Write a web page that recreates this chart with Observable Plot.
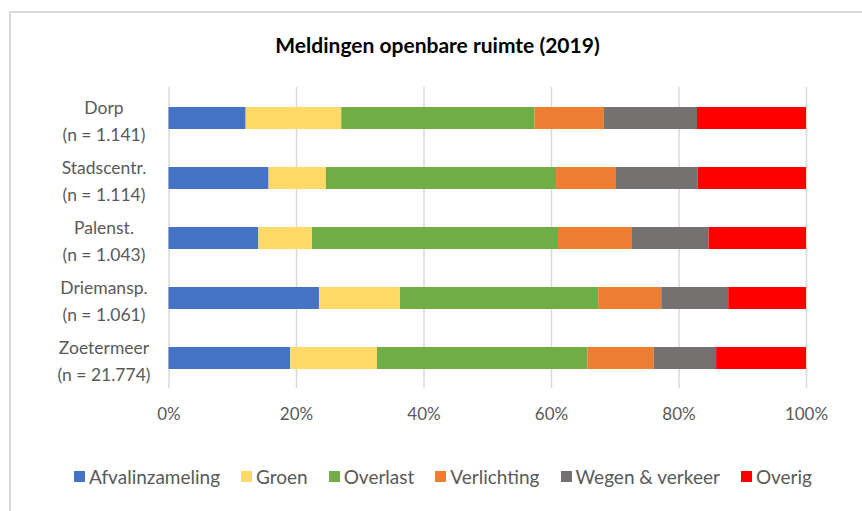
<!DOCTYPE html>
<html>
<head>
<meta charset="utf-8">
<script src="https://cdn.jsdelivr.net/npm/d3@7"></script>
<script src="https://cdn.jsdelivr.net/npm/@observablehq/plot@0.6"></script>
<style>
  html, body { margin: 0; padding: 0; background: #fff; }
  #wrap { position: relative; width: 862px; height: 511px; overflow: hidden; font-family: Lato, "Open Sans", sans-serif; }
  #frame { position: absolute; left: 9px; top: 11px; width: 900px; height: 600px; border-left: 2px solid #d9d9d9; border-top: 2px solid #d9d9d9; box-sizing: border-box; }
  #title { position: absolute; left: 0; width: 875px; top: 32px; text-align: center; font-weight: bold; font-size: 21px; color: #000; }
  #chart { position: absolute; left: 0; top: 0; }
  #legend { position: absolute; left: 0; width: 886px; top: 465px; display: flex; justify-content: center; font-size: 19px; color: #595959; }
  .item { display: flex; align-items: center; margin: 0 10.5px; }
  .sw { width: 11px; height: 11px; margin-right: 4px; }
</style>
</head>
<body>
<div id="wrap">
  <div id="frame"></div>
  <div id="chart"></div>
  <div id="title">Meldingen openbare ruimte (2019)</div>
  <div id="legend"></div>
</div>
<script>
const categories = ["Dorp", "Stadscentr.", "Palenst.", "Driemansp.", "Zoetermeer"];
const counts = ["1.141", "1.114", "1.043", "1.061", "21.774"];
const seriesNames = ["Afvalinzameling", "Groen", "Overlast", "Verlichting", "Wegen & verkeer", "Overig"];
const seriesColors = ["#4472C4", "#FFD966", "#70AD47", "#ED7D31", "#767171", "#FF0000"];
const afvalinzameling = [12.1, 15.7, 14.1, 23.6, 19.1];
const groen = [15.0, 9.0, 8.4, 12.7, 13.6];
const overlast = [30.3, 36.1, 38.6, 31.1, 33.0];
const verlichting = [10.9, 9.4, 11.6, 9.9, 10.4];
const wegenVerkeer = [14.6, 12.8, 12.0, 10.5, 9.8];
const overig = [17.1, 17.0, 15.3, 12.2, 14.1];
const xTicks = [0, 20, 40, 60, 80, 100];

const seriesValues = [afvalinzameling, groen, overlast, verlichting, wegenVerkeer, overig];
const rows = [];
categories.forEach((c, i) => {
  seriesNames.forEach((s, j) => rows.push({cat: c, series: s, value: seriesValues[j][i]}));
});
const labels = categories.map((c, i) => ({cat: c, label: `${c}\n(n = ${counts[i]})`}));

const plot = Plot.plot({
  width: 862,
  height: 511,
  marginLeft: 168.5,
  marginRight: 56,
  marginTop: 87,
  marginBottom: 123,
  style: {fontFamily: "Lato, 'Open Sans', sans-serif", fontSize: "17px", color: "#595959", background: "transparent"},
  x: {domain: [0, 100], ticks: xTicks, tickFormat: d => d + "%", label: null},
  y: {domain: categories, paddingInner: 0.635, paddingOuter: 0.3175, label: null, axis: null},
  color: {domain: seriesNames, range: seriesColors},
  marks: [
    Plot.gridX(xTicks, {stroke: "#d9d9d9", strokeOpacity: 1, strokeWidth: 1.5}),
    Plot.barX(rows, Plot.stackX({x: "value", y: "cat", fill: "series", order: seriesNames})),
    Plot.axisX(xTicks, {tickSize: 0, tickPadding: 19, tickFormat: d => d + "%", label: null, fill: "#595959", fontSize: 17}),
    Plot.text(labels, {y: "cat", text: "label", frameAnchor: "left", dx: -65, textAnchor: "middle", lineAnchor: "middle", lineHeight: 1.55, fill: "#595959", fontSize: 17.5})
  ]
});
document.getElementById("chart").appendChild(plot);

const legend = document.getElementById("legend");
seriesNames.forEach((s, j) => {
  const it = document.createElement("div");
  it.className = "item";
  const sw = document.createElement("span");
  sw.className = "sw";
  sw.style.background = seriesColors[j];
  const t = document.createElement("span");
  t.textContent = s;
  it.appendChild(sw);
  it.appendChild(t);
  legend.appendChild(it);
});
</script>
</body>
</html>
